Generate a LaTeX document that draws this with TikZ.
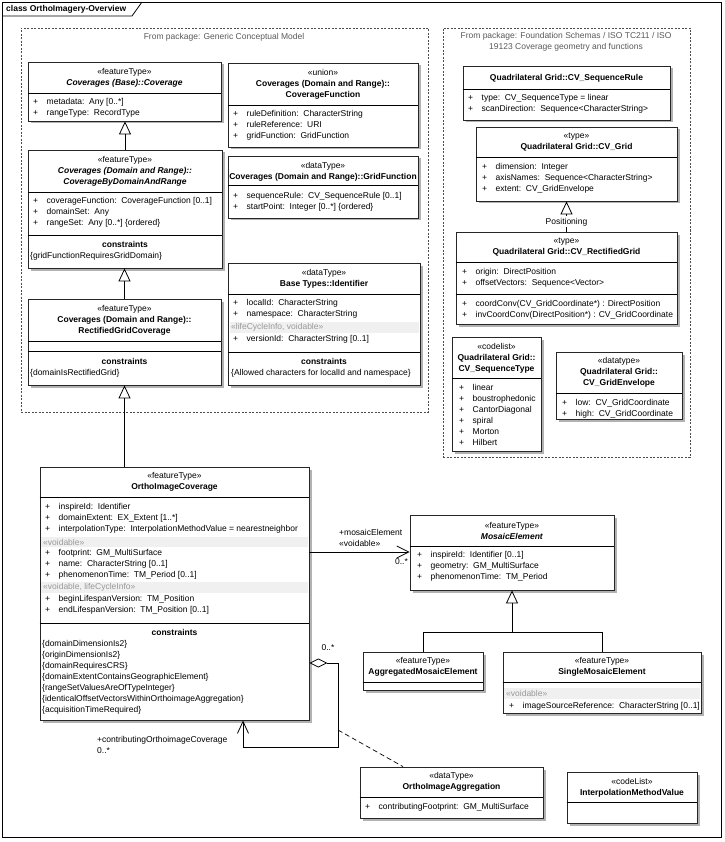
\documentclass[tikz,border=0pt]{standalone}
\usepackage{fontspec}
\setmainfont{Liberation Sans}
\usetikzlibrary{arrows.meta,fit,shadows}

\newcommand{\pl}{\strut\makebox[13.5pt][l]{+}}
\newcommand{\splitbox}[2]{\draw[line width=0.8pt] (#1.west |- 0,#2) -- (#1.east |- 0,#2);}

\tikzset{
  txt/.style={inner sep=0pt, font=\fontsize{8.5}{11}\selectfont},
  hdr/.style={txt, align=center},
  attrs/.style={txt, align=left, anchor=north west},
  tag/.style={txt, anchor=west, text=black!40},
  band/.style={fill=black!6},
  classbox/.style={inner sep=0pt, draw=black!85, fill=white, line width=0.8pt,
    general shadow={fill=black!30, shadow xshift=2.5pt, shadow yshift=-2.5pt}},
  pkg/.style={inner sep=0pt, draw=black!70, line width=0.8pt, dash pattern=on 2pt off 1.5pt},
  pkgtitle/.style={txt, align=center, text=black!65},
  gen/.style={line width=0.8pt, -{Triangle[open,length=13pt,width=12pt]}},
  assoc/.style={line width=0.8pt, -{Straight Barb[length=12pt,width=12pt]}},
  selfagg/.style={line width=0.8pt, {Diamond[open,length=18pt,width=9pt]}-{Straight Barb[length=12pt,width=11pt]}},
  assocclass/.style={line width=0.7pt, dash pattern=on 5pt off 3pt}
}

\begin{document}
\begin{tikzpicture}[x=1pt,y=-1pt]
\useasboundingbox (0,0) rectangle (724,842);

% diagram frame
\draw[line width=0.8pt] (2,2) rectangle (721,837);
\draw[line width=0.8pt] (2,16) -- (132,16) -- (142,2);
\node[txt, anchor=west, font=\fontsize{8.5}{11}\selectfont\bfseries] (frame-t) at (6,9) {class OrthoImagery-Overview};

% packages
\node[pkg, fit={(21,28) (428,412)}] (gcm) {};
\node[pkgtitle] (gcm-t) at (224,37) {From package: Generic Conceptual Model};
\node[pkg, fit={(443,28) (690,457)}] (iso) {};
\node[pkgtitle] (iso-t) at (566,42) {From package: Foundation Schemas / ISO TC211 / ISO\\19123 Coverage geometry and functions};

% Generic Conceptual Model
\node[classbox, fit={(28,62) (221,121)}] (cov) {};
\node[hdr] (cov-h) at (124.5,77.5) {«featureType»\\\textbf{\textit{Coverages (Base)::Coverage}}};
\splitbox{cov}{93}
\node[attrs] (cov-a) at (33,96.3) {\pl metadata:~~Any [0..*]\\\pl rangeType:~~RecordType};

\node[classbox, fit={(28,150) (222,268)}] (cbdr) {};
\node[hdr] (cbdr-h) at (125,171) {«featureType»\\\textbf{\textit{Coverages (Domain and Range)::}}\\\textbf{\textit{CoverageByDomainAndRange}}};
\splitbox{cbdr}{192}
\node[attrs] (cbdr-a) at (33,195.3) {\pl coverageFunction:~~CoverageFunction [0..1]\\\pl domainSet:~~Any\\\pl rangeSet:~~Any [0..*] \{ordered\}};
\splitbox{cbdr}{235}
\node[hdr] (cbdr-ct) at (125,244) {\textbf{constraints}};
\node[attrs] (cbdr-c) at (30,250.3) {\strut\{gridFunctionRequiresGridDomain\}};

\node[classbox, fit={(28,299) (221,385)}] (rgc) {};
\node[hdr] (rgc-h) at (124.5,320.5) {«featureType»\\\textbf{Coverages (Domain and Range)::}\\\textbf{RectifiedGridCoverage}};
\splitbox{rgc}{341}
\splitbox{rgc}{351}
\node[hdr] (rgc-ct) at (124.5,361) {\textbf{constraints}};
\node[attrs] (rgc-c) at (30,367.3) {\strut\{domainIsRectifiedGrid\}};

\node[classbox, fit={(228,63) (418,147)}] (covfn) {};
\node[hdr] (covfn-h) at (323,84) {«union»\\\textbf{Coverages (Domain and Range)::}\\\textbf{CoverageFunction}};
\splitbox{covfn}{105}
\node[attrs] (covfn-a) at (233,108.3) {\pl ruleDefinition:~~CharacterString\\\pl ruleReference:~~URI\\\pl gridFunction:~~GridFunction};

\node[classbox, fit={(228,156) (418,218)}] (gridfn) {};
\node[hdr] (gridfn-h) at (323,171.5) {«dataType»\\\textbf{Coverages (Domain and Range)::GridFunction}};
\splitbox{gridfn}{185}
\node[attrs] (gridfn-a) at (233,190.3) {\pl sequenceRule:~~CV\_SequenceRule [0..1]\\\pl startPoint:~~Integer [0..*] \{ordered\}};

\node[classbox, fit={(228,263) (420,385)}] (ident) {};
\node[hdr] (ident-h) at (324,278.5) {«dataType»\\\textbf{Base Types::Identifier}};
\splitbox{ident}{294}
\node[attrs] (ident-a) at (233,297.3) {\pl localId:~~CharacterString\\\pl namespace:~~CharacterString};
\fill[band] (229.5,322) rectangle (419,333);
\node[tag] (ident-v) at (231,327.5) {«lifeCycleInfo, voidable»};
\node[attrs] (ident-b) at (233,333.3) {\pl versionId:~~CharacterString [0..1]};
\splitbox{ident}{352}
\node[hdr] (ident-ct) at (324,361) {\textbf{constraints}};
\node[attrs] (ident-c) at (231,367.3) {\strut\{Allowed characters for localId and namespace\}};

\draw[gen] (cbdr.north) -- (cbdr.north |- cov.south);
\draw[gen] (rgc.north) -- (rgc.north |- cbdr.south);

% ISO 19123
\node[classbox, fit={(463,66) (670,120)}] (seqrule) {};
\node[hdr] (seqrule-h) at (566.5,78) {\textbf{Quadrilateral Grid::CV\_SequenceRule}};
\splitbox{seqrule}{89}
\node[attrs] (seqrule-a) at (468,92.3) {\pl type:~~CV\_SequenceType = linear\\\pl scanDirection:~~Sequence<CharacterString>};

\node[classbox, fit={(476,127) (677,201)}] (cvgrid) {};
\node[hdr] (cvgrid-h) at (576.5,142) {«type»\\\textbf{Quadrilateral Grid::CV\_Grid}};
\splitbox{cvgrid}{157}
\node[attrs] (cvgrid-a) at (482,161.3) {\pl dimension:~~Integer\\\pl axisNames:~~Sequence<CharacterString>\\\pl extent:~~CV\_GridEnvelope};

\node[classbox, fit={(456,232) (677,324)}] (rgrid) {};
\node[hdr] (rgrid-h) at (566.5,247) {«type»\\\textbf{Quadrilateral Grid::CV\_RectifiedGrid}};
\splitbox{rgrid}{262}
\node[attrs] (rgrid-a) at (462,266.3) {\pl origin:~~DirectPosition\\\pl offsetVectors:~~Sequence<Vector>};
\splitbox{rgrid}{294}
\node[attrs] (rgrid-o) at (462,298.3) {\pl coordConv(CV\_GridCoordinate*) : DirectPosition\\\pl invCoordConv(DirectPosition*) : CV\_GridCoordinate};

\draw[gen] (rgrid.north) -- (rgrid.north |- cvgrid.south)
  node[txt, pos=0.32, fill=white, inner sep=1.5pt] (rgrid-pos) {Positioning};

\node[classbox, fit={(452,337) (541,451)}] (seqtype) {};
\node[hdr] (seqtype-h) at (496.5,358) {«codelist»\\\textbf{Quadrilateral Grid::}\\\textbf{CV\_SequenceType}};
\splitbox{seqtype}{378}
\node[attrs] (seqtype-a) at (459,382.3) {\pl linear\\\pl boustrophedonic\\\pl CantorDiagonal\\\pl spiral\\\pl Morton\\\pl Hilbert};

\node[classbox, fit={(556,352) (682,419)}] (gridenv) {};
\node[hdr] (gridenv-h) at (619,372.5) {«datatype»\\\textbf{Quadrilateral Grid::}\\\textbf{CV\_GridEnvelope}};
\splitbox{gridenv}{393}
\node[attrs] (gridenv-a) at (562,397.3) {\pl low:~~CV\_GridCoordinate\\\pl high:~~CV\_GridCoordinate};

% OrthoImagery
\node[classbox, fit={(40,467) (309,720)}] (oic) {};
\node[hdr] (oic-h) at (174.5,482) {«featureType»\\\textbf{OrthoImageCoverage}};
\splitbox{oic}{497}
\begin{scope}
\clip (41,497) rectangle (308.5,620);
\node[attrs] (oic-a) at (45,501.3) {\pl inspireId:~~Identifier\\\pl domainExtent:~~EX\_Extent [1..*]\\\pl interpolationType:~~InterpolationMethodValue = nearestneighbor};
\end{scope}
\fill[band] (41,537) rectangle (308,547);
\node[tag] (oic-v1) at (43,542) {«voidable»};
\node[attrs] (oic-b) at (45,547.3) {\pl footprint:~~GM\_MultiSurface\\\pl name:~~CharacterString [0..1]\\\pl phenomenonTime:~~TM\_Period [0..1]};
\fill[band] (41,582) rectangle (308,593);
\node[tag] (oic-v2) at (43,587.5) {«voidable, lifeCycleInfo»};
\node[attrs] (oic-c) at (45,593.3) {\pl beginLifespanVersion:~~TM\_Position\\\pl endLifespanVersion:~~TM\_Position [0..1]};
\splitbox{oic}{623}
\node[hdr] (oic-ct) at (174.5,632) {\textbf{constraints}};
\node[attrs] (oic-k) at (42,638.3) {\strut\{domainDimensionIs2\}\\\strut\{originDimensionIs2\}\\\strut\{domainRequiresCRS\}\\\strut\{domainExtentContainsGeographicElement\}\\\strut\{rangeSetValuesAreOfTypeInteger\}\\\strut\{identicalOffsetVectorsWithinOrthoimageAggregation\}\\\strut\{acquisitionTimeRequired\}};

\draw[gen] (rgc.south |- oic.north) -- (rgc.south);

\node[classbox, fit={(410,515) (614,590)}] (mosaic) {};
\node[hdr] (mosaic-h) at (512,531) {«featureType»\\\textbf{\textit{MosaicElement}}};
\splitbox{mosaic}{546}
\node[attrs] (mosaic-a) at (417,549.3) {\pl inspireId:~~Identifier [0..1]\\\pl geometry:~~GM\_MultiSurface\\\pl phenomenonTime:~~TM\_Period};

\draw[assoc] (oic.east |- 0,552) -- (mosaic.west |- 0,552);
\node[txt, align=left, anchor=west] (mosaic-role) at (339,537.5) {+mosaicElement\\«voidable»};
\node[txt] (mosaic-mult) at (401.5,562) {0..*};

\node[classbox, fit={(363,652) (483,690)}] (aggme) {};
\node[hdr] (aggme-h) at (423,667) {«featureType»\\\textbf{AggregatedMosaicElement}};
\splitbox{aggme}{682}

\node[classbox, fit={(503,652) (701,713)}] (singleme) {};
\node[hdr] (singleme-h) at (602,667) {«featureType»\\\textbf{SingleMosaicElement}};
\splitbox{singleme}{682}
\fill[band] (504,688) rectangle (700,699);
\node[tag] (singleme-v) at (506,693.5) {«voidable»};
\begin{scope}
\clip (504,699) rectangle (700.5,712);
\node[attrs] (singleme-a) at (509,700.3) {\pl imageSourceReference:~~CharacterString [0..1]};
\end{scope}

\draw[line width=0.8pt] (aggme.north) |- (singleme.north |- 0,632) -- (singleme.north);
\draw[gen] (mosaic.south |- 0,632) -- (mosaic.south);

% self aggregation and association class
\coordinate (loop) at (338,747);
\coordinate (aclass) at (338,730);
\draw[selfagg] (oic.east |- 0,663) -| (loop) -| ([xshift=68.5pt]oic.south);
\node[txt] (agg-mult) at (328,648) {0..*};
\node[txt, align=left, anchor=west] (contrib-role) at (97,744.5) {+contributingOrthoimageCoverage\\0..*};

\node[classbox, fit={(360,767) (543,818)}] (orthoagg) {};
\node[hdr] (orthoagg-h) at (451.5,782) {«dataType»\\\textbf{OrthoImageAggregation}};
\splitbox{orthoagg}{797}
\node[attrs] (orthoagg-a) at (365,801.3) {\pl contributingFootprint:~~GM\_MultiSurface};
\draw[assocclass] (aclass) -- ([xshift=-48.5pt]orthoagg.north);

\node[classbox, fit={(567,772) (697,823)}] (interp) {};
\node[hdr] (interp-h) at (632,787.5) {«codeList»\\\textbf{InterpolationMethodValue}};
\splitbox{interp}{802}
\end{tikzpicture}
\end{document}
